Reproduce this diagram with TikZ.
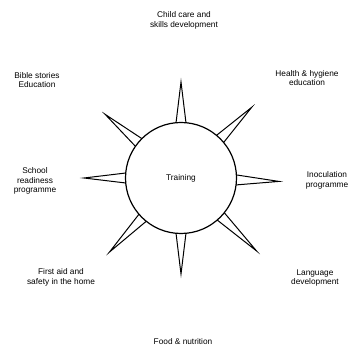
\documentclass[tikz,border=0pt]{standalone}
\usepackage{fontspec}
\setmainfont{Liberation Sans}
\usetikzlibrary{positioning}

\begin{document}
\begin{tikzpicture}[x=1pt,y=-1pt,
  lbl/.style={align=center,font=\fontsize{8.3}{9.8}\selectfont,inner sep=0pt},
  spike/.style={draw=black,fill=white,line width=1pt,line join=miter}]
\useasboundingbox (0,0) rectangle (364,347);
\coordinate (mid) at (181,178);
% spikes first, hub on top
\foreach \ang/\len in {90/96,45/100,140/99,180/97,226/103,270/96,316/105,358/98}{
  \draw[spike,shift={(mid)}] (-\ang+6.5:50) -- (-\ang:\len) -- (-\ang-6.5:50);}
\node[circle,draw,fill=white,line width=1.2pt,minimum size=111pt,inner sep=0pt,
  font=\fontsize{8.3}{9.8}\selectfont] (hub) at (mid) {Training};
\node[lbl] (child) at (184,20) {Child care and\\skills development};
\node[lbl] (bible) at (37,80) {Bible stories\\Education};
\node[lbl] (health) at (307,78) {Health \& hygiene\\education};
\node[lbl] (school) at (35,181) {School\\readiness\\programme};
\node[lbl] (inoc) at (327,180) {Inoculation\\programme};
\node[lbl] (aid) at (61,277) {First aid and\\safety in the home};
\node[lbl] (lang) at (315,278) {Language\\development};
\node[lbl] (food) at (183,342) {Food \& nutrition};
\end{tikzpicture}
\end{document}
